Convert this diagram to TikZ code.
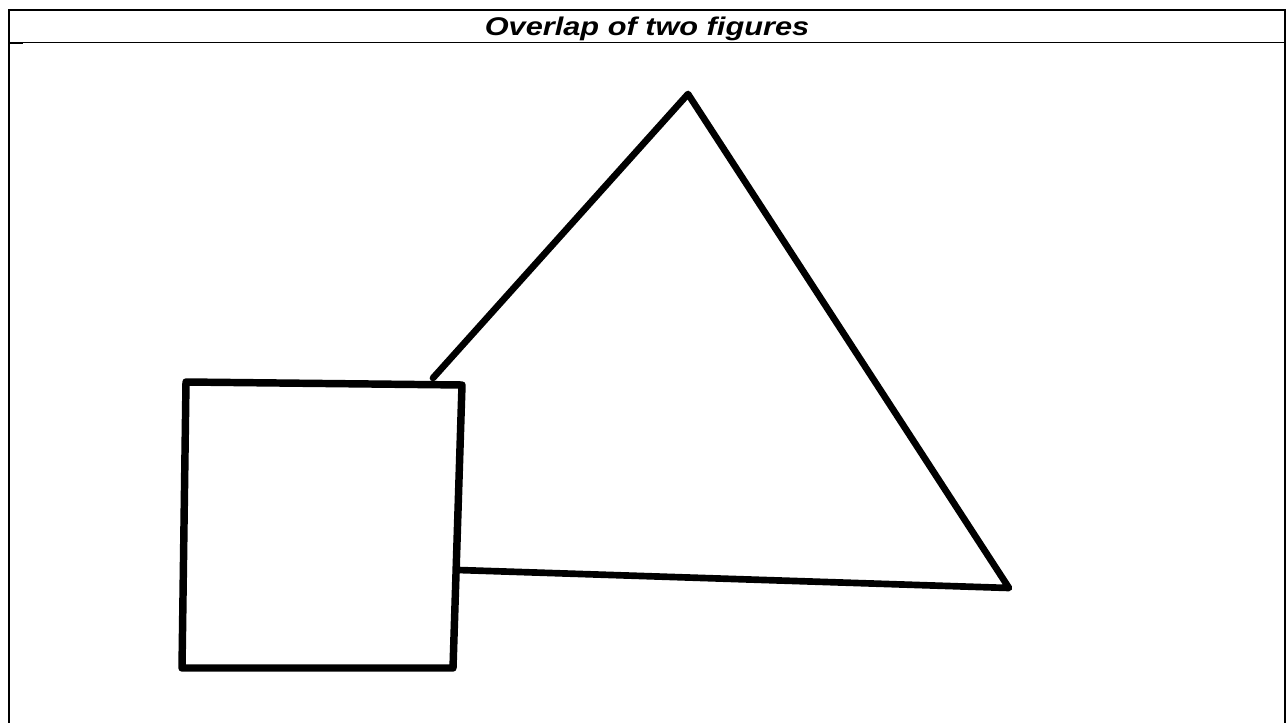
\documentclass[tikz,border=0pt]{standalone}
\usepackage{fontspec}
\setmainfont{Liberation Sans}
\begin{document}
\begin{tikzpicture}[x=0.75pt,y=-0.75pt,
  frame/.style={line width=1.6pt,black},
  thin rule/.style={line width=1pt,black},
  pen/.style={line width=5.6pt,black,line cap=round,line join=round},
  tpen/.style={line width=5pt,black,line cap=round,line join=round}]
\useasboundingbox (0,0) rectangle (1288,723);
% frame
\draw[frame] (9,723) -- (9,10) -- (1285,10) -- (1285,723);
\draw[thin rule] (9,42.5) -- (1285,42.5);
\draw[line width=1.6pt] (9,43) -- (23,43);
\node[font=\bfseries\itshape\fontsize{19.2pt}{23pt}\selectfont, inner sep=0pt, anchor=base] (title) at (647,36) {\scalebox{1.2}[1]{Overlap of two figures}};
% square
\coordinate (s1) at (186,382);
\coordinate (s2) at (462,385);
\coordinate (s3) at (453,668);
\coordinate (s4) at (182,668);
\draw[pen] (s1) -- (s2) -- (s3) -- (s4) -- cycle;
% triangle
\coordinate (apex) at (688,94);
\coordinate (tr) at (1009,588);
\coordinate (tl) at (458,570);
\coordinate (meet) at (433,378);
\draw[tpen] (meet) -- (apex) -- (tr) -- (tl);
\end{tikzpicture}
\end{document}
